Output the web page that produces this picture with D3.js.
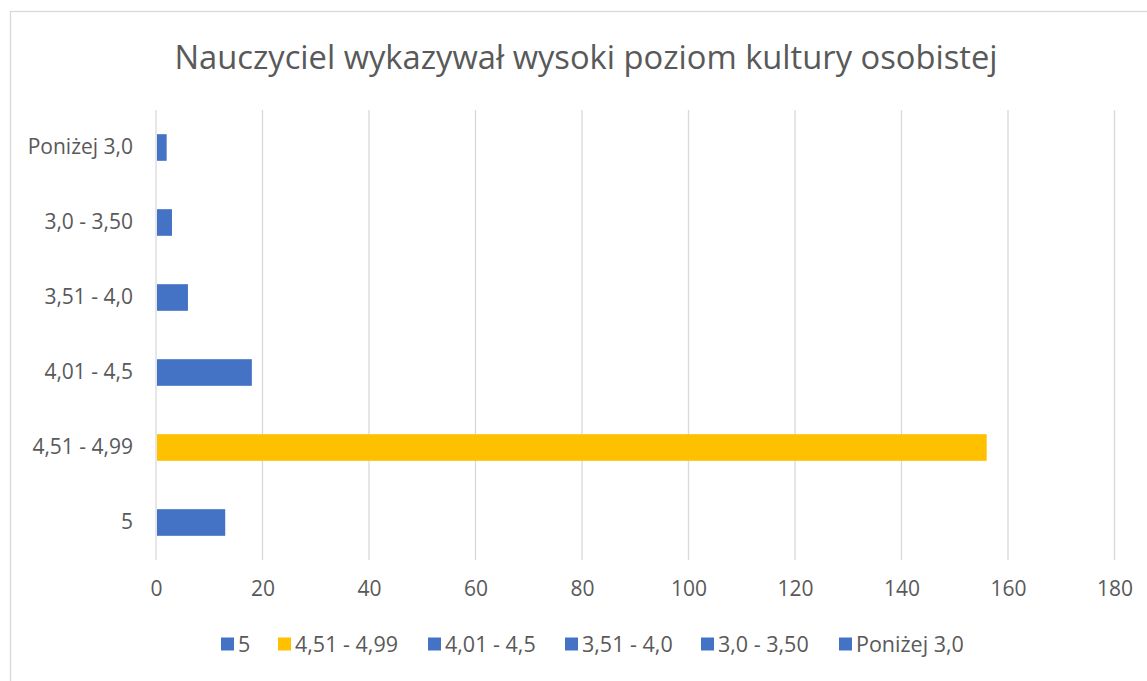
<!DOCTYPE html>
<html>
<head>
<meta charset="utf-8">
<script src="https://cdn.jsdelivr.net/npm/d3@7"></script>
<style>
  html, body { margin: 0; padding: 0; background: #fff; }
  svg { display: block; font-family: "Open Sans", sans-serif; }
</style>
</head>
<body>
<svg id="chart" width="1147" height="681"></svg>
<script>
// data, bottom to top as in the picture
const categories = ["5", "4,51 - 4,99", "4,01 - 4,5", "3,51 - 4,0", "3,0 - 3,50", "Poniżej 3,0"];
const counts = [13, 156, 18, 6, 3, 2];
const barColors = ["#4472C4", "#FFC000", "#4472C4", "#4472C4", "#4472C4", "#4472C4"];
const xTicks = [0, 20, 40, 60, 80, 100, 120, 140, 160, 180];
const title = "Nauczyciel wykazywał wysoki poziom kultury osobistej";

const textColor = "#595959";
const gridColor = "#D9D9D9";

const svg = d3.select("#chart");
const margin = { top: 110, left: 156, right: 1147 - 1114.5, bottom: 681 - 560 };
const width = 1147 - margin.left - margin.right;
const height = 681 - margin.top - margin.bottom;

// chart border (right and bottom edges fall outside the picture)
svg.append("rect")
    .attr("x", 10.5).attr("y", 11.5)
    .attr("width", 1200).attr("height", 700)
    .attr("fill", "none")
    .attr("stroke", gridColor)
    .attr("stroke-width", 1.3);

svg.append("text")
    .attr("x", 586)
    .attr("y", 69)
    .attr("text-anchor", "middle")
    .attr("fill", textColor)
    .style("font-size", "32.7px")
    .text(title);

const g = svg.append("g")
    .attr("transform", `translate(${margin.left},${margin.top})`);

const x = d3.scaleLinear().domain([0, 180]).range([0, width]);
const y = d3.scaleBand()
    .domain(categories)
    .range([height, 0])
    .paddingInner(0.645)
    .paddingOuter(0.3225);

// gridlines
g.append("g")
    .selectAll("line")
    .data(xTicks)
    .join("line")
    .attr("x1", d => x(d)).attr("x2", d => x(d))
    .attr("y1", 0).attr("y2", height)
    .attr("stroke", gridColor)
    .attr("stroke-width", 1.3);

// bars
g.append("g")
    .selectAll("rect")
    .data(categories)
    .join("rect")
    .attr("x", x(0) + 1)
    .attr("y", d => y(d))
    .attr("width", (d, i) => x(counts[i]) - x(0) - 1)
    .attr("height", y.bandwidth())
    .attr("fill", (d, i) => barColors[i]);

// x axis
const xAxis = g.append("g")
    .attr("transform", `translate(0,${height})`)
    .call(d3.axisBottom(x).tickValues(xTicks).tickSize(0).tickPadding(21));
xAxis.select(".domain").remove();
xAxis.selectAll("text")
    .attr("fill", textColor)
    .style("font-size", "21px")
    .style("font-family", "Open Sans, sans-serif");

// y axis
const yAxis = g.append("g")
    .call(d3.axisLeft(y).tickSize(0).tickPadding(23));
yAxis.select(".domain").remove();
yAxis.selectAll("text")
    .attr("fill", textColor)
    .style("font-size", "21px")
    .style("font-family", "Open Sans, sans-serif");

// legend
const legendX = [221, 278, 428, 565, 701, 839];
const legend = svg.append("g")
    .selectAll("g")
    .data(categories)
    .join("g")
    .attr("transform", (d, i) => `translate(${legendX[i]},644)`);

legend.append("rect")
    .attr("x", 0).attr("y", -6.5)
    .attr("width", 13).attr("height", 13)
    .attr("fill", (d, i) => barColors[i]);

legend.append("text")
    .attr("x", 17)
    .attr("dy", "0.35em")
    .attr("fill", textColor)
    .style("font-size", "21.5px")
    .text(d => d);
</script>
</body>
</html>
